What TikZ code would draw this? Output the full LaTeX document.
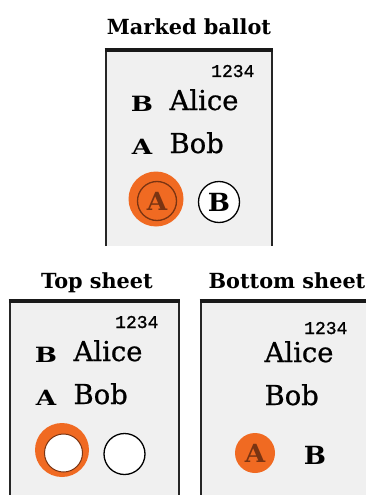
\documentclass[tikz,border=0pt]{standalone}
\usepackage{fontspec}
\setmainfont{DejaVu Serif}
\newfontfamily\ballotmono[FakeBold=1.2]{Liberation Mono}
\newfontfamily\namefont[FakeBold=0.8]{DejaVu Serif}
\usetikzlibrary{positioning}
\definecolor{cmark}{HTML}{F06A22}
\definecolor{cpaper}{HTML}{F0F0F0}
\definecolor{cink}{HTML}{7A3412}
\newcommand{\wideletter}[2][1.25]{\scalebox{#1}[1]{#2}}
\tikzset{
  every picture/.style={line width=1.2pt},
  sheettitle/.style={font=\bfseries\fontsize{20.8}{24}\selectfont, anchor=base, inner sep=0pt},
  cname/.style={font=\namefont\fontsize{27.4}{30}\selectfont, anchor=base west, inner sep=0pt},
  serial/.style={font=\ballotmono\fontsize{18}{20}\selectfont, anchor=base east, inner sep=0pt},
  letter/.style={font=\bfseries\fontsize{21}{24}\selectfont, inner sep=0pt},
  bigletter/.style={font=\bfseries\fontsize{25}{28}\selectfont, inner sep=0pt},
  frame/.style={draw=black!85, line width=2.6pt},
  frametop/.style={draw=black!90, line width=4pt},
  bubble/.style={draw=black, fill=white, line width=1.3pt},
}

\begin{document}
\begin{tikzpicture}[x=1pt, y=-1pt]
  \useasboundingbox (0,0) rectangle (365,495);

  % marked ballot
  \node[sheettitle] (mtitle) at (189,35) {Marked ballot};
  \begin{scope}[shift={(106,50)}]
    \fill[cpaper] (0,0) rectangle (166,196);
    \draw[frame] (0,196) -- (0,0) -- (166,0) -- (166,196);
    \draw[frametop] (-1.3,0) -- (167.3,0);
    \node[serial] (mserial) at (149,27) {1234};
    \node[letter] (mb) at (36,53.5) {\wideletter{B}};
    \node[cname] (malice) at (63,60) {Alice};
    \node[letter] (ma) at (36,96.5) {\wideletter{A}};
    \node[cname] (mbob) at (63,103) {Bob};
    \fill[cmark] (50,149) circle[radius=27.5pt];
    \node[circle, draw=cink, line width=1.3pt, minimum size=39pt, inner sep=0pt] (mcirca) at (51,151) {};
    \node[bigletter, text=cink] (mla) at (mcirca) {\wideletter[1.05]{A}};
    \node[circle, bubble, minimum size=41pt, inner sep=0pt] (mcircb) at (113,152) {};
    \node[bigletter] (mlb) at (mcircb) {\wideletter[1.05]{B}};
  \end{scope}

  % top sheet
  \node[sheettitle] (ttitle) at (97,288) {Top sheet};
  \begin{scope}[shift={(10,301)}]
    \fill[cpaper] (0,0) rectangle (169,194);
    \draw[frame] (0,194) -- (0,0) -- (169,0) -- (169,194);
    \draw[frametop] (-1.3,0) -- (170.3,0);
    \node[serial] (tserial) at (149,27) {1234};
    \node[letter] (tb) at (36,53.5) {\wideletter{B}};
    \node[cname] (talice) at (63,60) {Alice};
    \node[letter] (ta) at (36,96.5) {\wideletter{A}};
    \node[cname] (tbob) at (63,103) {Bob};
    \fill[cmark] (52,149) circle[radius=27pt];
    \node[circle, draw=cink, fill=white, line width=1pt, minimum size=38pt, inner sep=0pt] (tcirca) at (53.5,152) {};
    \node[circle, bubble, minimum size=41pt, inner sep=0pt] (tcircb) at (114.5,153) {};
  \end{scope}

  % bottom sheet
  \node[sheettitle] (btitle) at (287,288) {Bottom sheet};
  \begin{scope}[shift={(201,301)}]
    \fill[cpaper] (0,0) rectangle (170,194);
    \draw[frame] (0,194) -- (0,0) -- (170,0);
    \draw[frametop] (-1.3,0) -- (170,0);
    \node[serial] (bserial) at (147,33) {1234};
    \node[cname] (balice) at (63,61) {Alice};
    \node[cname] (bbob) at (63,104) {Bob};
    \node[circle, fill=cmark, minimum size=40pt, inner sep=0pt] (bcirca) at (54,152) {};
    \node[bigletter, text=cink] (bla) at (bcirca) {\wideletter[1.05]{A}};
    \node[bigletter] (blb) at (114,154) {\wideletter[1.05]{B}};
  \end{scope}
\end{tikzpicture}
\end{document}
